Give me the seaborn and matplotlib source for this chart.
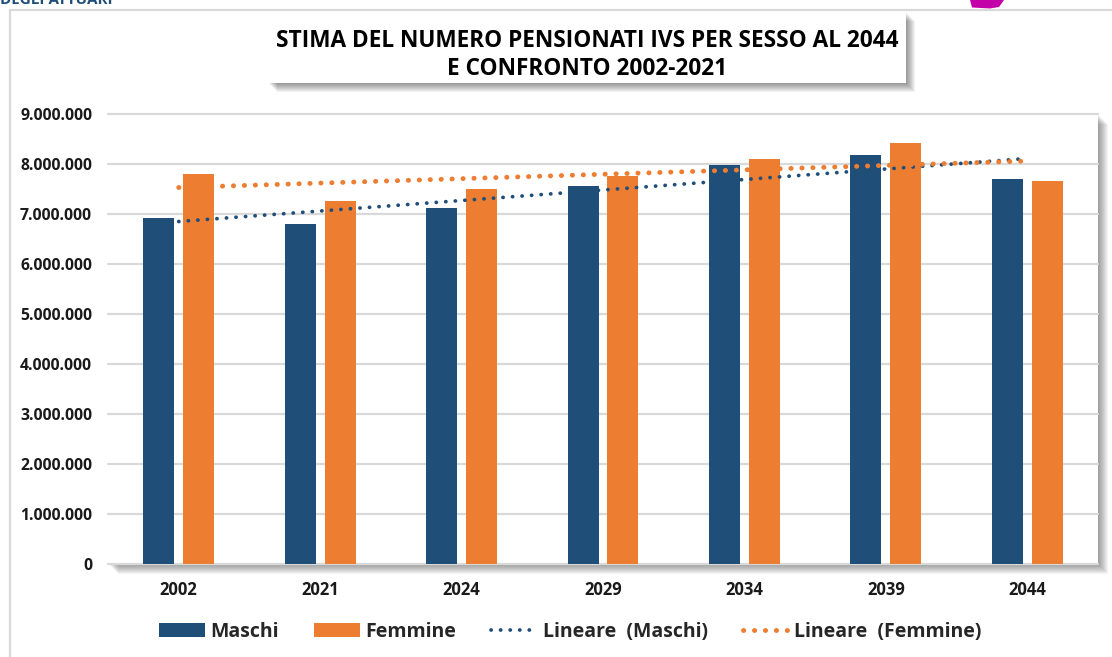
import numpy as np
import pandas as pd
import matplotlib
matplotlib.use("Agg")
import matplotlib.pyplot as plt
import seaborn as sns
from matplotlib.patches import Patch, Rectangle, Polygon
from matplotlib.lines import Line2D
from matplotlib.ticker import FuncFormatter, MultipleLocator

# ---------------- data ----------------
years = ["2002", "2021", "2024", "2029", "2034", "2039", "2044"]
maschi = [6930000, 6810000, 7120000, 7570000, 7990000, 8190000, 7710000]
femmine = [7800000, 7260000, 7510000, 7760000, 8110000, 8430000, 7670000]
# linear trend lines as drawn (value at first and last category)
trend_maschi = [6850000, 8110000]
trend_femmine = [7530000, 8060000]
series_names = ["Maschi", "Femmine"]
trend_names = ["Lineare  (Maschi)", "Lineare  (Femmine)"]
title_lines = ["STIMA DEL NUMERO PENSIONATI IVS PER SESSO AL 2044",
               "E CONFRONTO 2002-2021"]

BLUE = "#1F4E79"
ORANGE = "#ED7D31"
GRID = "#D9D9D9"

df = pd.DataFrame({
    "Anno": years * 2,
    "Sesso": [series_names[0]] * len(years) + [series_names[1]] * len(years),
    "Pensionati": maschi + femmine,
})

sns.set_theme(style="white")
plt.rcParams["font.family"] = ["Open Sans", "DejaVu Sans"]
plt.rcParams["font.weight"] = "bold"

W, H = 1112, 657
fig = plt.figure(figsize=(W / 100, H / 100), dpi=100)
fig.patch.set_facecolor("white")

def fx(x):
    return x / W

def fy(y):
    return 1 - y / H

# ---------- decorations (screenshot frame) ----------
fig.add_artist(Line2D([fx(10), fx(W)], [fy(10), fy(10)], color=GRID, lw=1.6,
                      transform=fig.transFigure))
fig.add_artist(Line2D([fx(10), fx(10)], [fy(10), fy(H)], color=GRID, lw=1.6,
                      transform=fig.transFigure))
fig.text(fx(0), fy(4), "DEGLI ATTUARI", color=BLUE, fontsize=11, fontweight="bold",
         ha="left", va="baseline")
fig.add_artist(Polygon([(fx(970), fy(0)), (fx(1004), fy(0)), (fx(999), fy(7)),
                        (fx(990), fy(8.5)), (fx(972), fy(7.5))], closed=True,
                       facecolor="#C400A8", edgecolor="none", transform=fig.transFigure))

def shadow_box(x0, y0, x1, y1, n=10, alpha=0.045):
    # drop shadow down-right of box given in pixel coords (top-left origin)
    for d in range(1, n + 1):
        fig.add_artist(Rectangle((fx(x0 + d), fy(y1 + d)), fx(x1 - x0), (y1 - y0) / H,
                                 facecolor="black", edgecolor="none", alpha=alpha,
                                 transform=fig.transFigure, zorder=0))
    fig.add_artist(Rectangle((fx(x0), fy(y1)), fx(x1 - x0), (y1 - y0) / H,
                             facecolor="white", edgecolor="none",
                             transform=fig.transFigure, zorder=0.5))

# title box
shadow_box(268, 12, 906, 83, n=9, alpha=0.05)
fig.text(fx(587), fy(41), title_lines[0], fontsize=16.3, fontweight="bold",
         ha="center", va="center", color="black", zorder=2)
fig.text(fx(587), fy(69), title_lines[1], fontsize=16.3, fontweight="bold",
         ha="center", va="center", color="black", zorder=2)

# plot area box
PX0, PY0, PX1, PY1 = 108, 114, 1098, 564
shadow_box(PX0, PY0, PX1, PY1, n=10, alpha=0.045)

ax = fig.add_axes([fx(PX0), fy(PY1), (PX1 - PX0) / W, (PY1 - PY0) / H], zorder=1)
ax.set_facecolor("white")

sns.barplot(data=df, x="Anno", y="Pensionati", hue="Sesso",
            palette=[BLUE, ORANGE], saturation=1, width=0.564, gap=0.223,
            errorbar=None, legend=False, ax=ax, edgecolor="none", linewidth=0,
            zorder=2)

xs = [0, len(years) - 1]
ax.plot(xs, trend_maschi, color=BLUE, lw=2.7, linestyle=(0, (0.05, 2.5)),
        dash_capstyle="round", solid_capstyle="round", zorder=3)
ax.plot(xs, trend_femmine, color=ORANGE, lw=3.5, linestyle=(0, (0.05, 2.2)),
        dash_capstyle="round", solid_capstyle="round", zorder=3)

ax.set_xlim(-0.5, len(years) - 0.5)
ax.set_ylim(0, 9000000)
ax.yaxis.set_major_locator(MultipleLocator(1000000))
ax.yaxis.set_major_formatter(FuncFormatter(lambda v, p: f"{v:,.0f}".replace(",", ".")))
ax.yaxis.grid(True, color=GRID, linewidth=1.6)
for gl in ax.get_ygridlines():
    gl.set_clip_on(False)
ax.xaxis.grid(False)
ax.set_axisbelow(True)
for s in ax.spines.values():
    s.set_visible(False)
ax.tick_params(axis="both", length=0)
ax.tick_params(axis="y", pad=11.5, labelsize=11.3)
ax.tick_params(axis="x", pad=12, labelsize=12)
for lab in ax.get_xticklabels() + ax.get_yticklabels():
    lab.set_fontweight("bold")
    lab.set_color("#1a1a1a")
ax.set_xlabel("")
ax.set_ylabel("")

handles = [
    Patch(facecolor=BLUE, edgecolor="none"),
    Patch(facecolor=ORANGE, edgecolor="none"),
    Line2D([], [], color=BLUE, lw=2.7, linestyle=(0, (0.05, 2.5)), dash_capstyle="round"),
    Line2D([], [], color=ORANGE, lw=3.5, linestyle=(0, (0.05, 2.2)), dash_capstyle="round"),
]
labels = series_names + trend_names
leg = fig.legend(handles, labels, loc="center", bbox_to_anchor=(fx(570), fy(632)),
                 ncol=4, frameon=False, fontsize=14, handlelength=2.4,
                 handleheight=0.7, handletextpad=0.25, columnspacing=1.8)
for t in leg.get_texts():
    t.set_fontweight("bold")

fig.savefig("out.png", dpi=100, facecolor="white")
